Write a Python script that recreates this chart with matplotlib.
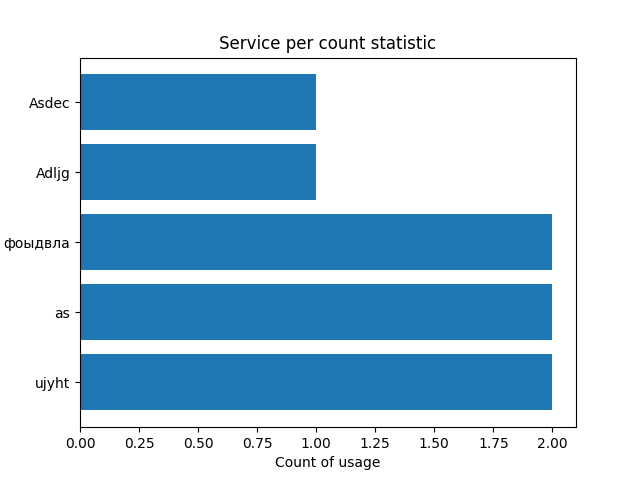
import matplotlib
matplotlib.use('Agg')
import matplotlib.pyplot as plt

services = ['ujyht', 'as', 'фоыдвла', 'Adljg', 'Asdec']
counts = [2, 2, 2, 1, 1]

fig, ax = plt.subplots(figsize=(6.4, 4.8), dpi=100)
ax.barh(services, counts)
ax.set_title('Service per count statistic')
ax.set_xlabel('Count of usage')
fig.savefig('out.png')
